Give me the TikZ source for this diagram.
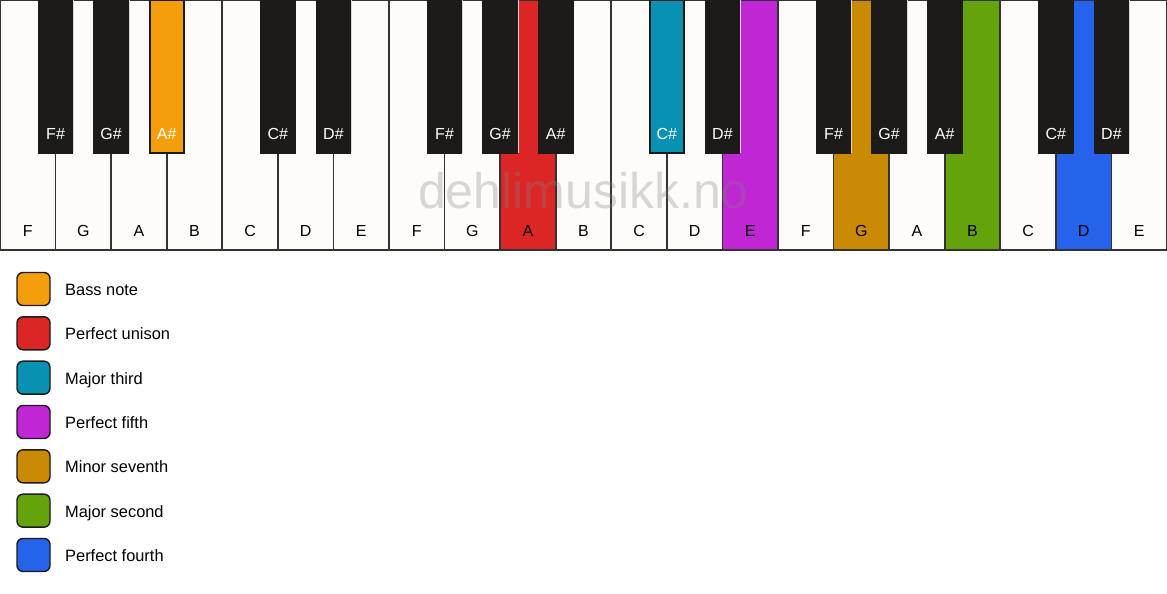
\documentclass[tikz,border=0pt]{standalone}
\usepackage{fontspec}
\setmainfont{Liberation Sans}
\usepackage{xcolor}
\usepackage{tikz}
\usetikzlibrary{positioning}
\definecolor{keywhite}{HTML}{FDFCF9}
\definecolor{keyblack}{HTML}{1C1B1A}
\definecolor{keyline}{HTML}{333333}
\definecolor{bassorange}{HTML}{F59E0B}
\definecolor{unisonred}{HTML}{DC2626}
\definecolor{thirdteal}{HTML}{0891B2}
\definecolor{fifthpurple}{HTML}{C026D3}
\definecolor{seventhgold}{HTML}{CA8A04}
\definecolor{secondgreen}{HTML}{65A30D}
\definecolor{fourthblue}{HTML}{2563EB}
\tikzstyle{whitekey} = [draw=keyline,line width=1.6pt]
\tikzstyle{blackkey} = [draw=keyblack,line width=1.6pt]
\tikzstyle{keylabel} = [anchor=base,inner sep=0pt,font=\fontsize{16}{16}\selectfont]
\tikzstyle{legendbox} = [draw=keyblack,line width=1.4pt,rounded corners=6pt,minimum size=33pt,inner sep=0pt]

\begin{document}
\begin{tikzpicture}[x=1pt,y=-1pt]
            \useasboundingbox (0,0) rectangle (1167,594);
            % white keys
          \foreach \n/\c [count=\i from 0] in {F/keywhite,G/keywhite,A/keywhite,B/keywhite,C/keywhite,D/keywhite,E/keywhite,
              F/keywhite,G/keywhite,A/unisonred,B/keywhite,C/keywhite,D/keywhite,E/fifthpurple,
              F/keywhite,G/seventhgold,A/keywhite,B/secondgreen,C/keywhite,D/fourthblue,E/keywhite} {
            \filldraw[whitekey,fill=\c] (\i*55.571,0) rectangle ++(55.571,250);
            \node[keylabel] (w\i) at (\i*55.571+27.79,236) {\n};
          }

          % watermark
          \node[anchor=base,text=gray,text opacity=0.3,font=\fontsize{50}{50}\selectfont] (mark) at (583.5,208) {dehlimusikk.no};

          % black keys
          \foreach \b/\c/\n in {1/keyblack/F\#,2/keyblack/G\#,3/bassorange/A\#,5/keyblack/C\#,6/keyblack/D\#,
              8/keyblack/F\#,9/keyblack/G\#,10/keyblack/A\#,12/thirdteal/C\#,13/keyblack/D\#,
              15/keyblack/F\#,16/keyblack/G\#,17/keyblack/A\#,19/keyblack/C\#,20/keyblack/D\#} {
            \fill[black!15] (\b*55.571+17,0) rectangle ++(1.5,153);
            \filldraw[blackkey,fill=\c] (\b*55.571-17,0) rectangle ++(34,153);
            \node[keylabel,text=white] (b\b) at (\b*55.571,139) {\n};
          }

          % legend
          \foreach \t/\c [count=\i from 0] in {Bass note/bassorange,Perfect unison/unisonred,Major third/thirdteal,
              Perfect fifth/fifthpurple,Minor seventh/seventhgold,Major second/secondgreen,Perfect fourth/fourthblue} {
            \node[legendbox,fill=\c] (box\i) at (33.5,289+\i*44.33) {};
            \node[anchor=base west,inner sep=0pt,font=\fontsize{16.4}{16.4}\selectfont] (text\i) at (65,295.4+\i*44.33) {\t};
          }
        \end{tikzpicture}
\end{document}
